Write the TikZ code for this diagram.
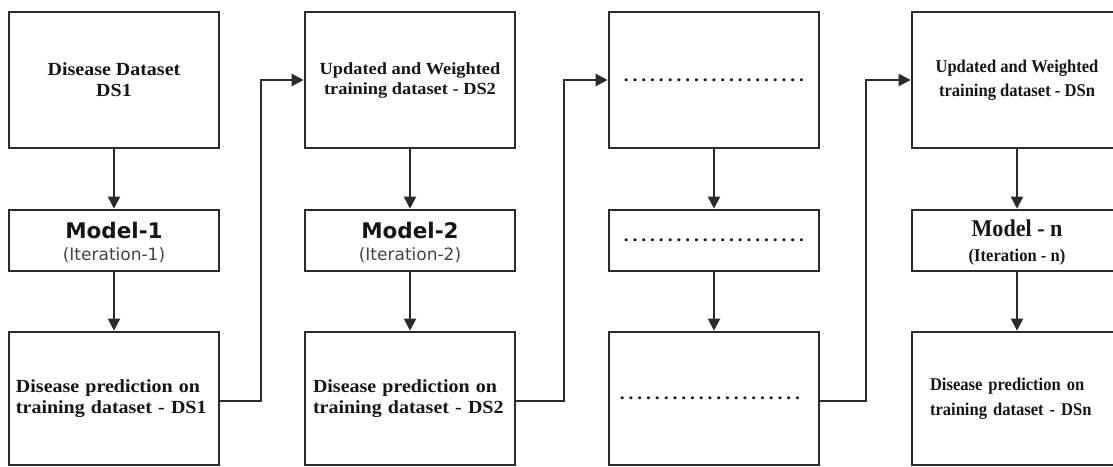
\documentclass[tikz,border=0pt]{standalone}
\usepackage{fontspec}
\setmainfont{Liberation Serif}
\newfontfamily\wideserif[FakeStretch=1.08]{Liberation Serif}
\newfontfamily\slimserif[FakeStretch=0.92]{Liberation Serif}
\newfontfamily\labelsans{DejaVu Sans}
\usetikzlibrary{arrows.meta}

\definecolor{edge}{HTML}{2B2B2B}
\definecolor{ink}{HTML}{161616}
\definecolor{note}{HTML}{444444}

% a row of evenly spaced full stops
\newcommand\dotrow{\hbox to 184pt{\xleaders\hbox to 8.75pt{\hss.\hss}\hfill}}
% invisible prop that lowers a heading line slightly
\newcommand\headprop{\rule{0pt}{21pt}}

\tikzset{
  box/.style={draw=edge, line width=2.6pt, minimum width=210pt, inner sep=0pt, text=ink},
  databox/.style={box, minimum height=136pt},
  modelbox/.style={box, minimum height=61pt},
  predbox/.style={box, minimum height=133pt},
  flow/.style={draw=edge, line width=1.9pt, -{Triangle[length=12pt,width=12pt]}},
  wbold/.style={font=\wideserif\bfseries\fontsize{18.5}{21}\selectfont},
  sbold/.style={font=\slimserif\bfseries\fontsize{18}{24.5}\selectfont},
}

\begin{document}
\begin{tikzpicture}[x=1pt,y=-1pt]
\useasboundingbox (0,0) rectangle (1113,466);
\clip (0,0) rectangle (1113,466);

% first iteration
\node[databox, wbold, align=center] (d1) at (114,80) {Disease Dataset\\DS1};
\node[modelbox, align=center, font=\labelsans\fontsize{17}{22}\selectfont] (m1) at (114,240.5)
  {{\headprop\bfseries\fontsize{21.5}{22}\selectfont Model-1}\\{\color{note}(Iteration-1)}};
\node[predbox, wbold, align=left, text width=196pt, inner xsep=7pt] (p1) at (114,398.5)
  {Disease prediction on\\training dataset - DS1};

% second iteration
\node[databox, align=center, font=\wideserif\bfseries\fontsize{17}{20}\selectfont] (d2) at (410,80)
  {Updated and Weighted\\training dataset - DS2};
\node[modelbox, align=center, font=\labelsans\fontsize{17}{22}\selectfont] (m2) at (410,240.5)
  {{\headprop\bfseries\fontsize{21.5}{22}\selectfont Model-2}\\{\color{note}(Iteration-2)}};
\node[predbox, wbold, align=left, text width=194pt, inner xsep=8pt] (p2) at (410,398.5)
  {Disease prediction on\\training dataset - DS2};

% intermediate iterations
\node[databox, font=\wideserif\bfseries\fontsize{18}{20}\selectfont] (d3) at (714,80) {\dotrow};
\node[modelbox, font=\wideserif\bfseries\fontsize{18}{20}\selectfont] (m3) at (714,240.5) {\dotrow};
\node[predbox, font=\wideserif\bfseries\fontsize{18}{20}\selectfont] (p3) at (714,398.5) {\hspace*{-8pt}\dotrow};

% last iteration
\node[databox, sbold, align=center] (dn) at (1017,80)
  {Updated and Weighted\\training dataset - DSn};
\node[modelbox, align=center, font=\slimserif\bfseries\fontsize{18}{25}\selectfont] (mn) at (1017,240.5)
  {{\headprop\fontsize{24}{25}\selectfont Model - n}\\(Iteration - n)};
\node[predbox, sbold, align=left, text width=174pt, inner xsep=18pt] (pn) at (1017,398.5)
  {Disease prediction on\\training dataset - DSn};

% flow within each iteration
\foreach \c in {1,2,3,n} {
  \draw[flow] (d\c) -- (m\c);
  \draw[flow] (m\c) -- (p\c);
}

% hand-over to the next iteration
\draw[flow] ([yshift=-2.5pt]p1.east) -- ++(41,0) |- (d2.west);
\draw[flow] ([yshift=-2.5pt]p2.east) -- ++(48,0) |- (d3.west);
\draw[flow] ([yshift=-2.5pt]p3.east) -- ++(46,0) |- (dn.west);
\end{tikzpicture}
\end{document}
